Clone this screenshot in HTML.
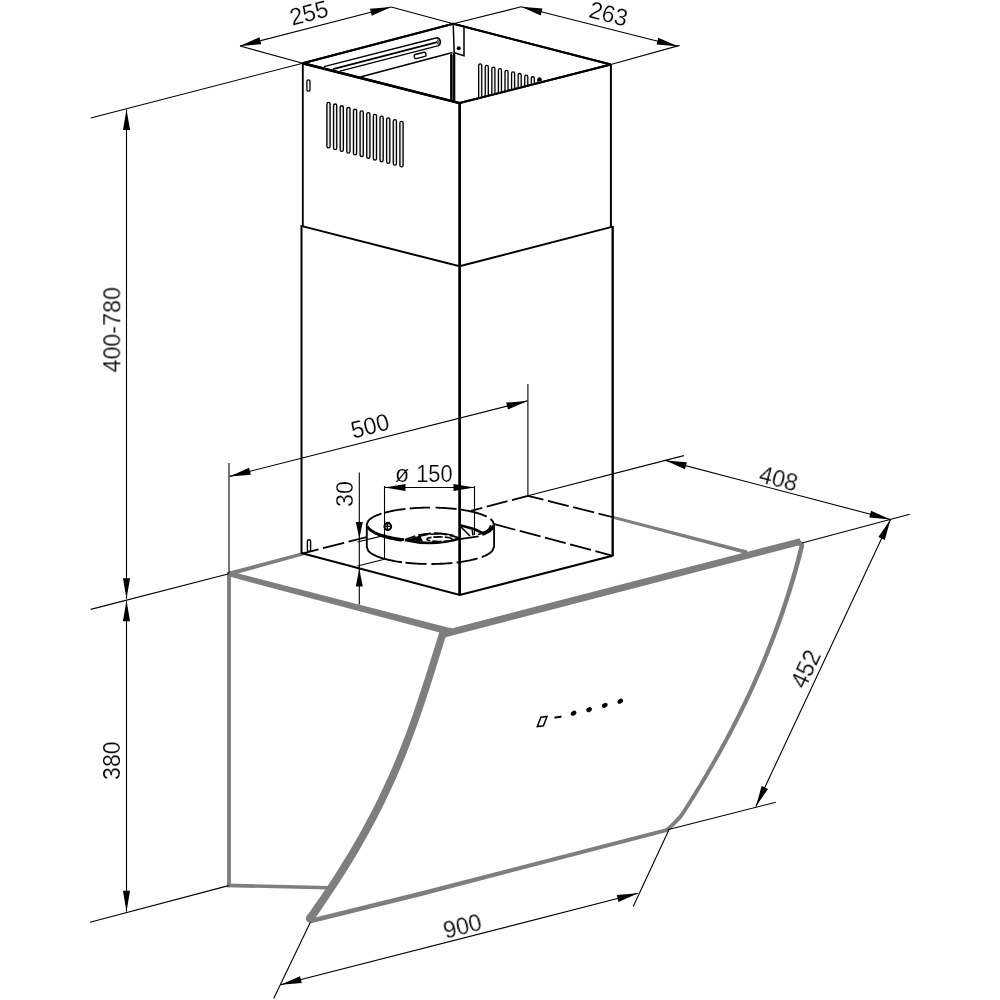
<!DOCTYPE html>
<html><head><meta charset="utf-8"><title>Hood dimensions</title>
<style>
html,body{margin:0;padding:0;background:#fff;}
body{width:1000px;height:1000px;overflow:hidden;}
svg{display:block;}
.t{font-family:"Liberation Sans",sans-serif;fill:#000;stroke:#fff;stroke-width:0.22px;}
</style></head><body>
<svg width="1000" height="1000" viewBox="0 0 1000 1000">
<rect width="1000" height="1000" fill="#fff"/>
<path d="M229.56,575.88 L303.94,555.24 L303.06,551.96 L228.44,571.72 Z" fill="#7f7d7d" stroke="none"/>
<path d="M227.05,572.00 L227.05,887.30 L230.95,887.30 L230.95,572.00 Z" fill="#7f7d7d" stroke="none"/>
<path d="M227.06,887.25 L328.96,889.55 L329.04,886.05 L227.14,883.55 Z" fill="#7f7d7d" stroke="none"/>
<path d="M612.13,518.60 L746.53,554.19 L747.47,550.61 L612.87,515.80 Z" fill="#7f7d7d" stroke="none"/>
<path d="M228.34,576.32 L448.13,634.74 L449.87,628.06 L229.66,571.28 Z" fill="#7f7d7d" stroke="none"/>
<polygon points="449.6,627.3 451.3,627.9 454,631 449,632" fill="#7f7d7d"/>
<path d="M800.01,543.65 L798.77,548.76 L797.49,553.86 L796.17,558.97 L794.82,564.07 L793.42,569.17 L791.98,574.27 L790.50,579.38 L788.99,584.48 L787.43,589.58 L785.84,594.68 L784.20,599.79 L782.53,604.89 L780.82,609.99 L779.06,615.10 L777.27,620.20 L775.44,625.31 L773.57,630.41 L771.66,635.51 L769.71,640.62 L767.72,645.72 L765.69,650.83 L763.62,655.94 L761.51,661.04 L759.37,666.15 L757.18,671.25 L754.95,676.36 L752.69,681.47 L750.38,686.57 L748.04,691.68 L745.65,696.79 L743.23,701.89 L740.77,707.00 L738.26,712.11 L735.72,717.22 L733.14,722.32 L730.52,727.43 L727.85,732.54 L725.15,737.65 L722.41,742.76 L719.63,747.87 L716.82,752.97 L713.96,758.08 L711.06,763.19 L708.12,768.30 L705.14,773.41 L702.13,778.52 L699.07,783.63 L695.97,788.74 L692.84,793.85 L689.66,798.97 L688.58,800.68 L687.04,803.13 L685.24,806.00 L683.35,808.95 L681.55,811.69 L680.04,813.87 L678.80,815.51 L677.66,816.87 L676.59,818.04 L675.58,819.08 L674.60,820.07 L673.63,821.06 L672.72,822.00 L671.87,822.84 L671.06,823.61 L670.29,824.32 L669.57,824.98 L668.90,825.61 L668.28,826.19 L667.72,826.72 L667.21,827.19 L666.76,827.60 L666.39,827.94 L666.11,828.20 L668.69,831.00 L668.97,830.74 L669.34,830.40 L669.79,829.99 L670.31,829.51 L670.89,828.97 L671.50,828.39 L672.16,827.78 L672.88,827.12 L673.67,826.39 L674.52,825.59 L675.43,824.70 L676.37,823.74 L677.32,822.76 L678.32,821.77 L679.39,820.66 L680.55,819.40 L681.80,817.90 L683.16,816.13 L684.75,813.84 L686.59,811.06 L688.50,808.08 L690.32,805.21 L691.87,802.76 L692.97,801.03 L696.16,795.91 L699.32,790.79 L702.44,785.67 L705.53,780.55 L708.57,775.43 L711.57,770.30 L714.53,765.18 L717.45,760.06 L720.34,754.94 L723.18,749.81 L725.98,744.69 L728.75,739.57 L731.47,734.44 L734.16,729.32 L736.80,724.20 L739.41,719.07 L741.98,713.95 L744.51,708.82 L746.99,703.70 L749.44,698.57 L751.85,693.45 L754.22,688.32 L756.55,683.20 L758.84,678.07 L761.09,672.95 L763.30,667.82 L765.47,662.70 L767.60,657.57 L769.69,652.44 L771.75,647.32 L773.76,642.19 L775.73,637.06 L777.67,631.93 L779.56,626.81 L781.42,621.68 L783.23,616.55 L785.01,611.42 L786.74,606.29 L788.44,601.17 L790.10,596.04 L791.71,590.91 L793.29,585.78 L794.83,580.65 L796.33,575.52 L797.78,570.39 L799.20,565.26 L800.58,560.13 L801.92,555.00 L803.22,549.87 L804.48,544.75 Z" fill="#7f7d7d" stroke="none"/>
<circle cx="667.40" cy="829.60" r="1.90" fill="#7f7d7d"/>
<path d="M311.16,923.28 L420.55,896.16 L667.89,831.69 L666.91,827.91 L419.45,891.84 L310.04,918.72 Z" fill="#7f7d7d" stroke="none"/>
<path d="M443.60,637.69 L801.44,544.74 L799.76,538.26 L441.85,630.91 Z" fill="#7f7d7d" stroke="none"/>
<circle cx="442.73" cy="634.30" r="3.50" fill="#7f7d7d"/>
<polygon points="797.4,538.8 803.8,543 803.2,547 798.4,545.4" fill="#7f7d7d"/>
<path d="M439.20,632.68 L437.68,637.43 L436.18,642.18 L434.68,646.93 L433.19,651.68 L431.71,656.42 L430.22,661.17 L428.73,665.91 L427.24,670.65 L425.74,675.39 L424.24,680.13 L422.72,684.87 L421.19,689.60 L419.64,694.33 L418.07,699.07 L416.48,703.80 L414.88,708.53 L413.25,713.26 L411.59,717.98 L409.90,722.71 L408.19,727.43 L406.45,732.16 L404.68,736.88 L402.87,741.60 L401.03,746.33 L399.15,751.05 L397.23,755.77 L395.28,760.49 L393.29,765.21 L391.26,769.93 L389.19,774.65 L387.08,779.36 L384.92,784.08 L382.72,788.80 L380.48,793.52 L378.19,798.24 L375.86,802.95 L373.49,807.67 L371.06,812.39 L368.60,817.11 L366.09,821.83 L363.53,826.55 L360.92,831.26 L358.27,835.98 L355.58,840.70 L352.84,845.42 L350.05,850.14 L347.22,854.86 L344.35,859.59 L341.43,864.31 L338.47,869.03 L335.47,873.75 L332.43,878.48 L329.34,883.20 L326.21,887.93 L323.05,892.65 L319.85,897.38 L316.61,902.10 L313.33,906.83 L310.03,911.56 L306.68,916.29 L313.22,920.91 L316.56,916.15 L319.89,911.38 L323.17,906.62 L326.43,901.85 L329.64,897.08 L332.82,892.31 L335.97,887.55 L339.07,882.78 L342.13,878.01 L345.15,873.24 L348.13,868.47 L351.06,863.69 L353.96,858.92 L356.80,854.15 L359.61,849.38 L362.37,844.60 L365.08,839.83 L367.75,835.06 L370.37,830.28 L372.95,825.51 L375.48,820.73 L377.96,815.96 L380.40,811.18 L382.80,806.41 L385.14,801.63 L387.45,796.85 L389.71,792.08 L391.92,787.30 L394.09,782.53 L396.22,777.75 L398.30,772.98 L400.35,768.21 L402.35,763.43 L404.31,758.66 L406.24,753.89 L408.13,749.11 L409.98,744.34 L411.79,739.57 L413.57,734.80 L415.32,730.03 L417.04,725.26 L418.73,720.50 L420.39,715.73 L422.02,710.97 L423.63,706.20 L425.22,701.44 L426.78,696.68 L428.33,691.92 L429.86,687.16 L431.38,682.40 L432.88,677.65 L434.37,672.89 L435.86,668.14 L437.34,663.39 L438.82,658.64 L440.29,653.90 L441.77,649.15 L443.26,644.41 L444.75,639.67 L446.25,634.92 Z" fill="#7f7d7d" stroke="none"/>
<circle cx="309.95" cy="918.60" r="4.00" fill="#7f7d7d"/>
<circle cx="442.73" cy="633.80" r="3.70" fill="#7f7d7d"/>
<path d="M302.70,63.20 L453.20,23.80 L610.80,64.50" fill="none" stroke="#000" stroke-width="2.0" stroke-linejoin="miter" stroke-linecap="butt"/>
<path d="M302.70,63.20 L459.60,103.10" fill="none" stroke="#000" stroke-width="2.5" stroke-linejoin="miter" stroke-linecap="butt"/>
<path d="M459.60,103.10 L610.80,64.50" fill="none" stroke="#000" stroke-width="2.1" stroke-linejoin="miter" stroke-linecap="butt"/>
<line x1="302.8" y1="62.4" x2="302.8" y2="226" stroke="#000" stroke-width="1.85" stroke-linecap="butt"/>
<line x1="459.6" y1="102.8" x2="459.6" y2="594.9" stroke="#000" stroke-width="2.7" stroke-linecap="butt"/>
<line x1="610.9" y1="64" x2="610.9" y2="226.6" stroke="#000" stroke-width="2.0" stroke-linecap="butt"/>
<path d="M301.00,225.90 L459.60,266.30 L612.80,226.60" fill="none" stroke="#000" stroke-width="2.0" stroke-linejoin="miter" stroke-linecap="butt"/>
<line x1="301.5" y1="225.2" x2="301.5" y2="553.8" stroke="#000" stroke-width="2.0" stroke-linecap="butt"/>
<line x1="612.7" y1="226.0" x2="612.7" y2="556.2" stroke="#000" stroke-width="2.35" stroke-linecap="butt"/>
<path d="M301.20,553.00 L459.80,594.90 L612.60,555.80" fill="none" stroke="#000" stroke-width="2.1" stroke-linejoin="miter" stroke-linecap="butt"/>
<line x1="303" y1="553.3" x2="367" y2="537" stroke="#000" stroke-width="1.8" stroke-linecap="butt" stroke-dasharray="16 4.5 22 4.5 21 5" stroke-dashoffset="0"/>
<line x1="527.9" y1="495.8" x2="471" y2="510.8" stroke="#000" stroke-width="1.8" stroke-linecap="butt" stroke-dasharray="21.5 4.6" stroke-dashoffset="5"/>
<line x1="527.9" y1="495.8" x2="612" y2="517" stroke="#000" stroke-width="1.8" stroke-linecap="butt" stroke-dasharray="21.5 4.6" stroke-dashoffset="5.5"/>
<line x1="494.5" y1="524.2" x2="612" y2="555.6" stroke="#000" stroke-width="1.8" stroke-linecap="butt" stroke-dasharray="21.5 4.6" stroke-dashoffset="0"/>
<rect x="326.90" y="102.30" width="3.2" height="45.6" rx="1.6" fill="#eee" stroke="#000" stroke-width="1.35"/>
<rect x="333.54" y="104.03" width="3.2" height="45.6" rx="1.6" fill="#eee" stroke="#000" stroke-width="1.35"/>
<rect x="340.17" y="105.75" width="3.2" height="45.6" rx="1.6" fill="#eee" stroke="#000" stroke-width="1.35"/>
<rect x="346.81" y="107.48" width="3.2" height="45.6" rx="1.6" fill="#eee" stroke="#000" stroke-width="1.35"/>
<rect x="353.44" y="109.21" width="3.2" height="45.6" rx="1.6" fill="#eee" stroke="#000" stroke-width="1.35"/>
<rect x="360.08" y="110.94" width="3.2" height="45.6" rx="1.6" fill="#eee" stroke="#000" stroke-width="1.35"/>
<rect x="366.72" y="112.66" width="3.2" height="45.6" rx="1.6" fill="#eee" stroke="#000" stroke-width="1.35"/>
<rect x="373.35" y="114.39" width="3.2" height="45.6" rx="1.6" fill="#eee" stroke="#000" stroke-width="1.35"/>
<rect x="379.99" y="116.12" width="3.2" height="45.6" rx="1.6" fill="#eee" stroke="#000" stroke-width="1.35"/>
<rect x="386.62" y="117.84" width="3.2" height="45.6" rx="1.6" fill="#eee" stroke="#000" stroke-width="1.35"/>
<rect x="393.26" y="119.57" width="3.2" height="45.6" rx="1.6" fill="#eee" stroke="#000" stroke-width="1.35"/>
<rect x="399.90" y="121.30" width="3.2" height="45.6" rx="1.6" fill="#eee" stroke="#000" stroke-width="1.35"/>
<rect x="306.9" y="79.8" width="3.1" height="11.4" rx="1.55" fill="#fff" stroke="#000" stroke-width="1.3"/>
<rect x="307.4" y="539.8" width="3.2" height="11.6" rx="1.6" fill="#fff" stroke="#000" stroke-width="1.4"/>
<clipPath id="cv"><polygon points="459,102.8 610.5,64.5 610.5,20 459,20"/></clipPath>
<g clip-path="url(#cv)">
<rect x="478.65" y="63.80" width="3.1" height="45" rx="1.55" fill="#eee" stroke="#000" stroke-width="1.3"/>
<rect x="485.23" y="65.42" width="3.1" height="45" rx="1.55" fill="#eee" stroke="#000" stroke-width="1.3"/>
<rect x="491.81" y="67.04" width="3.1" height="45" rx="1.55" fill="#eee" stroke="#000" stroke-width="1.3"/>
<rect x="498.39" y="68.66" width="3.1" height="45" rx="1.55" fill="#eee" stroke="#000" stroke-width="1.3"/>
<rect x="504.97" y="70.28" width="3.1" height="45" rx="1.55" fill="#eee" stroke="#000" stroke-width="1.3"/>
<rect x="511.55" y="71.90" width="3.1" height="45" rx="1.55" fill="#eee" stroke="#000" stroke-width="1.3"/>
<rect x="518.13" y="73.52" width="3.1" height="45" rx="1.55" fill="#eee" stroke="#000" stroke-width="1.3"/>
<rect x="524.71" y="75.14" width="3.1" height="45" rx="1.55" fill="#eee" stroke="#000" stroke-width="1.3"/>
<rect x="531.29" y="76.76" width="3.1" height="45" rx="1.55" fill="#eee" stroke="#000" stroke-width="1.3"/>
<rect x="537.87" y="78.38" width="3.1" height="45" rx="1.55" fill="#eee" stroke="#000" stroke-width="1.3"/>
</g>
<circle cx="539.6" cy="79.4" r="2.1" fill="#000"/>
<path d="M453.20,23.80 L464.00,26.80 L464.00,55.80 L454.20,52.80 Z" fill="#fff" stroke="#000" stroke-width="1.5" stroke-linejoin="miter" stroke-linecap="butt"/>
<circle cx="458.7" cy="48.2" r="2.0" fill="#000"/>
<line x1="452.6" y1="54.5" x2="452.6" y2="101.2" stroke="#555" stroke-width="4.4" stroke-linecap="butt"/>
<line x1="451.1" y1="54" x2="451.1" y2="101" stroke="#000" stroke-width="1.8" stroke-linecap="butt"/>
<line x1="454.2" y1="53" x2="454.2" y2="101.8" stroke="#000" stroke-width="2.2" stroke-linecap="butt"/>
<line x1="360.3" y1="76.9" x2="452.6" y2="52.6" stroke="#000" stroke-width="1.5" stroke-linecap="butt"/>
<line x1="324" y1="66.6" x2="437" y2="37.8" stroke="#000" stroke-width="1.4" stroke-linecap="butt"/>
<line x1="333" y1="69.2" x2="437.2" y2="42.2" stroke="#000" stroke-width="1.9" stroke-linecap="butt"/>
<line x1="340" y1="71.2" x2="437.6" y2="45.9" stroke="#000" stroke-width="1.3" stroke-linecap="butt"/>
<path d="M437,37.8 A4.3,4.3 0 0 1 437.6,46" fill="none" stroke="#000" stroke-width="1.6"/>
<path d="M437.2,39.6 A3,3 0 0 1 437.4,44" fill="none" stroke="#000" stroke-width="1.1"/>
<rect x="-5.9" y="-2.1" width="11.8" height="4.2" rx="1.4" transform="translate(420.1,55.4) rotate(-14.5)" fill="#fff" stroke="#000" stroke-width="1.4"/>
<path d="M302.70,63.20 L453.20,23.80 L610.80,64.50" fill="none" stroke="#000" stroke-width="2.0" stroke-linejoin="miter" stroke-linecap="butt"/>
<path d="M302.70,63.20 L459.60,103.10" fill="none" stroke="#000" stroke-width="2.5" stroke-linejoin="miter" stroke-linecap="butt"/>
<path d="M459.60,103.10 L610.80,64.50" fill="none" stroke="#000" stroke-width="2.1" stroke-linejoin="miter" stroke-linecap="butt"/>
<path d="M366.80,547.20 L368.33,550.87 L369.86,552.35 L371.39,553.47 L372.92,554.40 L374.45,555.20 L375.98,555.90 L377.51,556.54 L379.04,557.12 L380.57,557.65 L382.10,558.14 L383.63,558.59 L385.17,559.02 L386.70,559.41 L388.23,559.78 L389.76,560.13 L391.29,560.46 L392.82,560.76 L394.35,561.05 L395.88,561.32 L397.41,561.57 L398.94,561.81 L400.47,562.03 L402.00,562.24" fill="none" stroke="#000" stroke-width="1.85" stroke-linejoin="round" stroke-linecap="butt"/>
<path d="M405.50,562.67 L407.00,562.83 L408.50,562.98 L410.00,563.12 L411.50,563.25 L413.00,563.36 L414.50,563.47 L416.00,563.57 L417.50,563.66 L419.00,563.73 L420.50,563.80 L422.00,563.86 L423.50,563.90 L425.00,563.94 L426.50,563.97" fill="none" stroke="#000" stroke-width="1.85" stroke-linejoin="round" stroke-linecap="butt"/>
<path d="M431.40,564.00 L432.90,563.99 L434.40,563.96 L435.90,563.93 L437.40,563.89 L438.90,563.85 L440.40,563.79 L441.90,563.72 L443.40,563.64 L444.90,563.55 L446.40,563.45 L447.90,563.34 L449.40,563.22 L450.90,563.09 L452.40,562.95" fill="none" stroke="#000" stroke-width="1.85" stroke-linejoin="round" stroke-linecap="butt"/>
<path d="M456.60,562.49 L458.10,562.30 L459.60,562.10 L461.10,561.89 L462.60,561.66 L464.10,561.42 L465.60,561.16 L467.10,560.89 L468.60,560.60 L470.10,560.29 L471.60,559.96 L473.10,559.61 L474.60,559.24 L476.10,558.84 L477.60,558.41" fill="none" stroke="#000" stroke-width="1.85" stroke-linejoin="round" stroke-linecap="butt"/>
<path d="M481.80,557.03 L483.30,556.45 L484.80,555.82 L486.30,555.12 L487.80,554.33 L489.30,553.41 L490.80,552.30 L492.30,550.83 L493.80,547.20" fill="none" stroke="#000" stroke-width="1.85" stroke-linejoin="round" stroke-linecap="butt"/>
<path d="M366.80,524.40 L368.43,520.61 L370.07,519.08 L371.70,517.93 L373.33,516.98 L374.97,516.16 L376.60,515.43 L378.23,514.78 L379.87,514.19 L381.50,513.65" fill="none" stroke="#000" stroke-width="1.85" stroke-linejoin="round" stroke-linecap="butt"/>
<path d="M384.50,512.76 L386.00,512.36 L387.50,511.99 L389.00,511.64 L390.50,511.31 L392.00,511.00 L393.50,510.71 L395.00,510.44 L396.50,510.18 L398.00,509.94 L399.50,509.71 L401.00,509.50 L402.50,509.30 L404.00,509.11 L405.50,508.93" fill="none" stroke="#000" stroke-width="1.85" stroke-linejoin="round" stroke-linecap="butt"/>
<path d="M409.70,508.51 L411.26,508.37 L412.82,508.25 L414.38,508.14 L415.95,508.03 L417.51,507.94 L419.07,507.86 L420.63,507.80 L422.19,507.74 L423.75,507.69 L425.32,507.65 L426.88,507.62 L428.44,507.61 L430.00,507.60" fill="none" stroke="#000" stroke-width="1.85" stroke-linejoin="round" stroke-linecap="butt"/>
<path d="M435.60,507.66 L437.10,507.70 L438.60,507.74 L440.10,507.80 L441.60,507.87 L443.10,507.94 L444.60,508.03 L446.10,508.13 L447.60,508.24 L449.10,508.35 L450.60,508.48 L452.10,508.62 L453.60,508.77 L455.10,508.93 L456.60,509.11" fill="none" stroke="#000" stroke-width="1.85" stroke-linejoin="round" stroke-linecap="butt"/>
<path d="M460.80,509.66 L462.32,509.89 L463.85,510.14 L465.37,510.39 L466.89,510.67 L468.42,510.96 L469.94,511.28 L471.46,511.61 L472.99,511.96 L474.51,512.34 L476.04,512.75 L477.56,513.18 L479.08,513.64 L480.61,514.15 L482.13,514.69 L483.65,515.29 L485.18,515.95 L486.70,516.68" fill="none" stroke="#000" stroke-width="1.85" stroke-linejoin="round" stroke-linecap="butt"/>
<path d="M490.50,519.05 L491.32,519.76 L492.15,520.60 L492.98,521.70 L493.80,524.40" fill="none" stroke="#000" stroke-width="1.85" stroke-linejoin="round" stroke-linecap="butt"/>
<line x1="366.8" y1="523.9" x2="366.8" y2="547.7" stroke="#000" stroke-width="1.85" stroke-linecap="butt"/>
<line x1="494.1" y1="523.4" x2="494.1" y2="547.7" stroke="#000" stroke-width="1.85" stroke-linecap="butt"/>
<path d="M367.40,526.70 L368.93,528.71 L370.45,530.01 L371.98,531.04 L373.50,531.91 L375.03,532.67 L376.55,533.35 L378.08,533.96 L379.60,534.52 L381.12,535.03 L382.65,535.50 L384.18,535.95 L385.70,536.36 L387.23,536.74 L388.75,537.10 L390.28,537.44 L391.80,537.76 L393.32,538.06 L394.85,538.34 L396.38,538.60 L397.90,538.85 L399.43,539.08 L400.95,539.30 L402.48,539.50 L404.00,539.69" fill="none" stroke="#000" stroke-width="2.8" stroke-linejoin="round" stroke-linecap="butt"/>
<path d="M369.80,528.64 L371.33,530.70 L372.87,531.99 L374.40,533.00 L375.93,533.86 L377.47,534.60 L379.00,535.26 L380.53,535.85 L382.07,536.40 L383.60,536.89 L385.13,537.35 L386.67,537.78 L388.20,538.18 L389.73,538.55 L391.27,538.90 L392.80,539.22 L394.33,539.52 L395.87,539.81 L397.40,540.07 L398.93,540.32 L400.47,540.56 L402.00,540.77" fill="none" stroke="#000" stroke-width="1.7" stroke-linejoin="round" stroke-linecap="butt"/>
<path d="M482.00,534.15 L483.64,533.51 L485.29,532.80 L486.93,532.00 L488.57,531.08 L490.21,529.97 L491.86,528.52 L493.50,526.03" fill="none" stroke="#000" stroke-width="3.6" stroke-linejoin="round" stroke-linecap="butt"/>
<path d="M478.00,534.61 L479.60,534.07 L481.20,533.47 L482.80,532.80 L484.40,532.05 L486.00,531.17 L487.60,530.11 L489.20,528.70 L490.80,525.20" fill="none" stroke="#000" stroke-width="1.6" stroke-linejoin="round" stroke-linecap="butt"/>
<path d="M484.00,533.60 L474.00,529.00 L461.00,525.60" fill="none" stroke="#000" stroke-width="2.6" stroke-linejoin="round" stroke-linecap="butt"/>
<line x1="461" y1="527" x2="470" y2="536" stroke="#000" stroke-width="1.6" stroke-linecap="butt"/>
<line x1="472.2" y1="529.6" x2="473" y2="535.4" stroke="#000" stroke-width="1.6" stroke-linecap="butt"/>
<line x1="459.5" y1="539.2" x2="478.6" y2="536.4" stroke="#000" stroke-width="1.8" stroke-linecap="butt"/>
<path d="M405,540 Q432,527.6 460,538.4" fill="none" stroke="#000" stroke-width="2.0" stroke-dasharray="13 3" stroke-dashoffset="2"/>
<path d="M405,540 Q432,546.6 460,538.6" fill="none" stroke="#000" stroke-width="2.6"/>
<path d="M405.5,540.2 L420,535.6 L423,541.2 Z" fill="#000"/>
<ellipse cx="439.5" cy="539.2" rx="12.5" ry="2.3" fill="#fff" stroke="#000" stroke-width="1.7" stroke-dasharray="9 2"/>
<path d="M418,536.8 Q436,531.4 455,535.8" fill="none" stroke="#000" stroke-width="1.4" stroke-dasharray="10 3"/>
<circle cx="387.8" cy="526.6" r="3.4" fill="#fff" stroke="#000" stroke-width="1.9"/>
<path d="M385.2,526.4 h5.2 M387.4,523.6 v5.8" stroke="#000" stroke-width="1.4"/>
<path d="M385.6,522.6 h4.6" stroke="#000" stroke-width="1.4"/>
<path d="M537.30,726.60 L540.90,717.30 L547.00,716.50 L543.40,725.80 Z" fill="none" stroke="#000" stroke-width="1.5" stroke-linejoin="miter" stroke-linecap="butt"/>
<line x1="555.3" y1="717.6" x2="560.7" y2="716.8" stroke="#000" stroke-width="2.0" stroke-linecap="round"/>
<ellipse cx="0" cy="0" rx="3.0" ry="2.2" transform="translate(573.6,713.2) rotate(-35)" fill="#000"/>
<ellipse cx="0" cy="0" rx="3.0" ry="2.2" transform="translate(589.1,709.6) rotate(-35)" fill="#000"/>
<ellipse cx="0" cy="0" rx="3.0" ry="2.2" transform="translate(604.8,705.3) rotate(-35)" fill="#000"/>
<ellipse cx="0" cy="0" rx="3.0" ry="2.2" transform="translate(620.3,701.2) rotate(-35)" fill="#000"/>
<line x1="240" y1="46" x2="391.2" y2="7" stroke="#000" stroke-width="1.1" stroke-linecap="butt"/>
<polygon points="240.00,46.00 259.45,37.32 261.22,44.19" fill="#000"/>
<polygon points="391.20,7.00 371.75,15.68 369.98,8.81" fill="#000"/>
<line x1="240" y1="46" x2="302.7" y2="63.2" stroke="#000" stroke-width="1.1" stroke-linecap="butt"/>
<line x1="391.2" y1="7" x2="453.2" y2="23.8" stroke="#000" stroke-width="1.1" stroke-linecap="butt"/>
<line x1="302.7" y1="63.2" x2="90.7" y2="118" stroke="#000" stroke-width="1.1" stroke-linecap="butt"/>
<line x1="521.2" y1="6.8" x2="677.8" y2="46.3" stroke="#000" stroke-width="1.1" stroke-linecap="butt"/>
<polygon points="521.20,6.80 542.43,8.49 540.69,15.38" fill="#000"/>
<polygon points="677.80,46.30 656.57,44.61 658.31,37.72" fill="#000"/>
<line x1="453.2" y1="23.8" x2="521.2" y2="6.8" stroke="#000" stroke-width="1.1" stroke-linecap="butt"/>
<line x1="610.8" y1="64.5" x2="679.6" y2="45.4" stroke="#000" stroke-width="1.1" stroke-linecap="butt"/>
<line x1="126.5" y1="109.4" x2="126.5" y2="598.8" stroke="#000" stroke-width="1.1" stroke-linecap="butt"/>
<polygon points="126.50,109.40 130.05,129.90 122.95,129.90" fill="#000"/>
<polygon points="126.50,598.80 122.95,578.30 130.05,578.30" fill="#000"/>
<line x1="126.5" y1="600.4" x2="126.5" y2="911.5" stroke="#000" stroke-width="1.1" stroke-linecap="butt"/>
<polygon points="126.50,600.40 130.05,621.20 122.95,621.20" fill="#000"/>
<polygon points="126.50,911.50 122.95,890.70 130.05,890.70" fill="#000"/>
<line x1="229" y1="573.8" x2="90.7" y2="609.4" stroke="#000" stroke-width="1.1" stroke-linecap="butt"/>
<line x1="228.6" y1="885.6" x2="90" y2="922.2" stroke="#000" stroke-width="1.1" stroke-linecap="butt"/>
<line x1="229.6" y1="476.4" x2="527.4" y2="400.9" stroke="#000" stroke-width="1.1" stroke-linecap="butt"/>
<polygon points="229.60,476.40 249.08,467.80 250.83,474.68" fill="#000"/>
<polygon points="527.40,400.90 507.92,409.50 506.17,402.62" fill="#000"/>
<line x1="229.0" y1="462.9" x2="229.0" y2="573" stroke="#000" stroke-width="1.1" stroke-linecap="butt"/>
<line x1="527.9" y1="384.1" x2="527.9" y2="496" stroke="#000" stroke-width="1.1" stroke-linecap="butt"/>
<line x1="359.3" y1="472.5" x2="359.3" y2="604.6" stroke="#000" stroke-width="1.1" stroke-linecap="butt"/>
<polygon points="359.30,538.60 355.80,522.10 362.80,522.10" fill="#000"/>
<polygon points="359.30,569.00 362.80,586.50 355.80,586.50" fill="#000"/>
<line x1="357.5" y1="542" x2="384.5" y2="535.4" stroke="#000" stroke-width="1.1" stroke-linecap="butt"/>
<line x1="357.5" y1="566" x2="384.5" y2="559.2" stroke="#000" stroke-width="1.1" stroke-linecap="butt"/>
<line x1="384.5" y1="487.5" x2="474.5" y2="487.5" stroke="#000" stroke-width="1.1" stroke-linecap="butt"/>
<polygon points="384.50,487.50 405.50,483.95 405.50,491.05" fill="#000"/>
<polygon points="474.50,487.50 453.50,491.05 453.50,483.95" fill="#000"/>
<line x1="384.5" y1="486" x2="384.5" y2="559" stroke="#000" stroke-width="1.1" stroke-linecap="butt"/>
<line x1="474.5" y1="486" x2="474.5" y2="535" stroke="#000" stroke-width="1.1" stroke-linecap="butt"/>
<line x1="665.6" y1="460.4" x2="890.5" y2="519.5" stroke="#000" stroke-width="1.1" stroke-linecap="butt"/>
<polygon points="665.60,460.40 686.81,462.30 685.01,469.17" fill="#000"/>
<polygon points="890.50,519.50 869.29,517.60 871.09,510.73" fill="#000"/>
<line x1="527.9" y1="495.8" x2="683.8" y2="455.6" stroke="#000" stroke-width="1.1" stroke-linecap="butt"/>
<line x1="802" y1="543" x2="909.7" y2="514.2" stroke="#000" stroke-width="1.1" stroke-linecap="butt"/>
<line x1="890.5" y1="519.5" x2="755.9" y2="806.4" stroke="#000" stroke-width="1.1" stroke-linecap="butt"/>
<polygon points="890.50,519.50 884.79,540.02 878.37,537.00" fill="#000"/>
<polygon points="755.90,806.40 761.61,785.88 768.03,788.90" fill="#000"/>
<line x1="667.6" y1="829.8" x2="775.8" y2="802.2" stroke="#000" stroke-width="1.1" stroke-linecap="butt"/>
<line x1="280.6" y1="984.8" x2="638.0" y2="893.3" stroke="#000" stroke-width="1.1" stroke-linecap="butt"/>
<polygon points="280.60,984.80 300.06,976.15 301.82,983.03" fill="#000"/>
<polygon points="638.00,893.30 618.54,901.95 616.78,895.07" fill="#000"/>
<line x1="310.6" y1="921.8" x2="273.7" y2="998.4" stroke="#000" stroke-width="1.1" stroke-linecap="butt"/>
<line x1="668.6" y1="830.6" x2="633.2" y2="906.4" stroke="#000" stroke-width="1.1" stroke-linecap="butt"/>
<g opacity="0.999">
<text x="0" y="0" transform="translate(309,13) rotate(-14.5) scale(0.97,1)" text-anchor="middle" dominant-baseline="central" font-size="24" class="t">255</text>
<text x="0" y="0" transform="translate(608.5,14) rotate(14.2) scale(0.97,1)" text-anchor="middle" dominant-baseline="central" font-size="24" class="t">263</text>
<text x="0" y="0" transform="translate(112.3,329.8) rotate(-90) scale(0.97,1)" text-anchor="middle" dominant-baseline="central" font-size="24" class="t">400-780</text>
<text x="0" y="0" transform="translate(112.0,760.7) rotate(-90) scale(0.97,1)" text-anchor="middle" dominant-baseline="central" font-size="24" class="t">380</text>
<text x="0" y="0" transform="translate(370,426) rotate(-14.2) scale(0.97,1)" text-anchor="middle" dominant-baseline="central" font-size="24" class="t">500</text>
<text x="0" y="0" transform="translate(345,494) rotate(-90) scale(0.97,1)" text-anchor="middle" dominant-baseline="central" font-size="24" class="t">30</text>
<text x="0" y="0" transform="translate(402,473.5) rotate(0) scale(0.97,1)" text-anchor="middle" dominant-baseline="central" font-size="24" class="t">ø</text>
<text x="0" y="0" transform="translate(434.4,473.5) rotate(0) scale(0.91,1)" text-anchor="middle" dominant-baseline="central" font-size="24" class="t">150</text>
<text x="0" y="0" transform="translate(778.5,479) rotate(14.5) scale(0.97,1)" text-anchor="middle" dominant-baseline="central" font-size="24" class="t">408</text>
<text x="0" y="0" transform="translate(806,669) rotate(-65) scale(0.97,1)" text-anchor="middle" dominant-baseline="central" font-size="24" class="t">452</text>
<text x="0" y="0" transform="translate(462.5,926.5) rotate(-14.2) scale(0.97,1)" text-anchor="middle" dominant-baseline="central" font-size="24" class="t">900</text>
</g>
</svg>
</body></html>
